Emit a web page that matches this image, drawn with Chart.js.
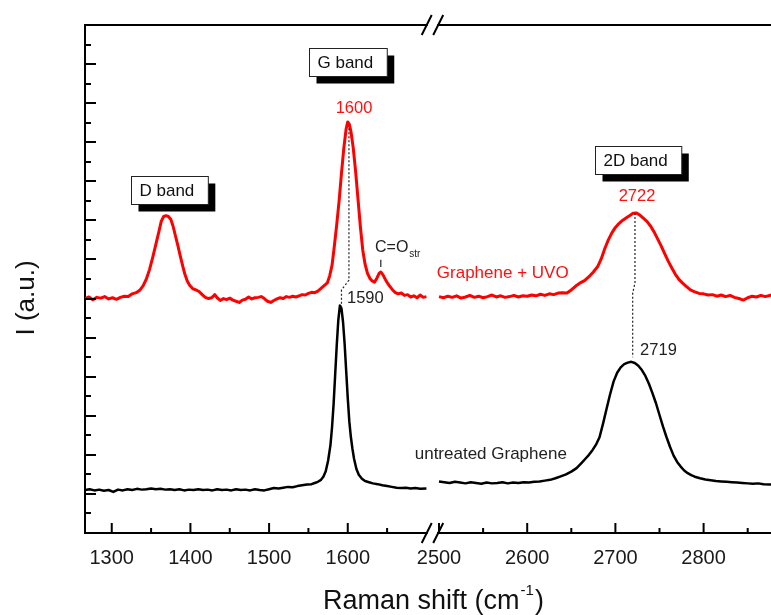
<!DOCTYPE html>
<html>
<head>
<meta charset="utf-8">
<script src="https://cdn.jsdelivr.net/npm/chart.js@4.4.1/dist/chart.umd.min.js"></script>
<style>
  html, body { margin: 0; padding: 0; background: #fff; }
  canvas { display: block; }
</style>
</head>
<body>
<canvas id="raman" width="771" height="615"></canvas>
<script>
// Raman spectra, wavenumber (cm-1) vs intensity (a.u.)
var uvoLowX = [1266, 1271, 1276, 1281, 1286, 1291, 1296, 1301, 1306, 1311, 1316, 1321, 1326, 1331, 1336, 1340, 1344, 1348, 1352, 1356,
  1360, 1363, 1366, 1369, 1372, 1375, 1378, 1381, 1384, 1387, 1390, 1393, 1396, 1399, 1403, 1407, 1411, 1415, 1419, 1423,
  1427, 1431, 1434, 1438, 1442, 1446, 1450, 1454, 1458, 1462, 1466, 1470, 1474, 1478, 1482, 1486, 1490, 1494, 1498, 1502,
  1506, 1510, 1514, 1518, 1522, 1526, 1530, 1534, 1538, 1542, 1546, 1550, 1554, 1558, 1562, 1566, 1570, 1574, 1577, 1580,
  1583, 1586, 1589, 1592, 1595, 1598, 1600, 1602, 1604, 1607, 1610, 1613, 1616, 1619, 1622, 1625, 1628, 1631, 1634, 1637,
  1640, 1642, 1645, 1648, 1651, 1654, 1657, 1660, 1664, 1668, 1672, 1676, 1680, 1684, 1688, 1692, 1696, 1700];
var uvoLowY = [6.00, 6.04, 5.97, 6.03, 6.01, 6.05, 5.99, 6.02, 5.98, 6.03, 6.06, 6.05, 6.12, 6.15, 6.22, 6.33, 6.50, 6.74, 7.05, 7.38,
  7.72, 7.98, 8.10, 8.12, 8.10, 8.03, 7.85, 7.60, 7.36, 7.10, 6.85, 6.62, 6.45, 6.34, 6.25, 6.22, 6.18, 6.10, 6.03, 6.00,
  6.02, 6.10, 6.02, 5.95, 6.00, 5.97, 6.01, 5.96, 5.93, 5.90, 5.96, 5.98, 6.04, 5.99, 6.02, 6.03, 6.05, 6.00, 5.93, 5.90,
  5.95, 5.99, 6.02, 6.00, 6.05, 6.03, 6.06, 6.04, 6.07, 6.10, 6.09, 6.13, 6.16, 6.15, 6.19, 6.26, 6.33, 6.40, 6.58, 6.85,
  7.35, 7.90, 8.50, 9.20, 9.85, 10.35, 10.52, 10.46, 10.28, 9.85, 9.25, 8.55, 7.85, 7.25, 6.88, 6.65, 6.52, 6.45, 6.42, 6.52,
  6.65, 6.68, 6.60, 6.48, 6.38, 6.30, 6.22, 6.16, 6.12, 6.14, 6.08, 6.10, 6.04, 6.07, 6.02, 6.09, 6.03, 6.05];

var uvoHighX = [2500, 2505, 2510, 2515, 2520, 2525, 2530, 2535, 2540, 2545, 2550, 2555, 2560, 2565, 2570, 2575, 2580, 2585, 2590, 2595,
  2600, 2605, 2610, 2615, 2620, 2625, 2630, 2635, 2640, 2645, 2650, 2655, 2660, 2665, 2670, 2675, 2680, 2684, 2688, 2692,
  2696, 2700, 2704, 2708, 2712, 2716, 2720, 2724, 2728, 2732, 2736, 2740, 2744, 2748, 2752, 2756, 2760, 2764, 2768, 2772,
  2776, 2780, 2785, 2790, 2795, 2800, 2805, 2810, 2815, 2820, 2825, 2830, 2835, 2840, 2845, 2850, 2855, 2860, 2865, 2870, 2877];
var uvoHighY = [6.05, 6.02, 6.06, 6.03, 6.07, 6.01, 6.04, 6.08, 6.03, 6.06, 6.02, 6.05, 6.09, 6.04, 6.07, 6.03, 6.05, 6.08, 6.04, 6.07,
  6.06, 6.09, 6.07, 6.11, 6.08, 6.12, 6.10, 6.14, 6.15, 6.14, 6.22, 6.32, 6.40, 6.46, 6.56, 6.68, 6.82, 7.02, 7.28, 7.50,
  7.68, 7.82, 7.92, 8.00, 8.06, 8.12, 8.18, 8.19, 8.13, 8.05, 7.97, 7.85, 7.70, 7.52, 7.34, 7.14, 6.95, 6.78, 6.62, 6.49,
  6.40, 6.32, 6.22, 6.17, 6.13, 6.12, 6.09, 6.10, 6.06, 6.09, 6.05, 6.08, 6.03, 6.00, 5.96, 6.02, 6.06, 6.04, 6.08, 6.05, 6.09];

var rawLowX = [1266, 1272, 1278, 1284, 1290, 1296, 1302, 1308, 1314, 1320, 1326, 1332, 1338, 1344, 1350, 1356, 1362, 1368, 1374, 1380,
  1386, 1392, 1398, 1404, 1410, 1416, 1422, 1428, 1434, 1440, 1446, 1452, 1458, 1464, 1470, 1476, 1482, 1488, 1494, 1500,
  1506, 1512, 1518, 1524, 1530, 1536, 1542, 1548, 1554, 1558, 1562, 1566, 1569, 1572, 1575, 1578, 1580, 1582, 1584, 1586,
  1588, 1590, 1592, 1594, 1596, 1598, 1600, 1602, 1604, 1606, 1608, 1611, 1614, 1618, 1622, 1627, 1632, 1638, 1644, 1650,
  1656, 1662, 1668, 1674, 1680, 1686, 1692, 1700];
var rawLowY = [1.10, 1.12, 1.09, 1.11, 1.08, 1.10, 1.05, 1.11, 1.09, 1.12, 1.10, 1.13, 1.11, 1.12, 1.14, 1.12, 1.13, 1.11, 1.12, 1.10,
  1.12, 1.09, 1.11, 1.10, 1.12, 1.10, 1.11, 1.09, 1.12, 1.10, 1.11, 1.09, 1.12, 1.10, 1.11, 1.09, 1.12, 1.10, 1.09, 1.12,
  1.15, 1.14, 1.16, 1.18, 1.17, 1.20, 1.22, 1.24, 1.25, 1.28, 1.31, 1.36, 1.44, 1.58, 1.85, 2.25, 2.70, 3.30, 4.05, 4.80,
  5.45, 5.82, 5.75, 5.40, 4.85, 4.15, 3.45, 2.85, 2.45, 2.15, 1.90, 1.64, 1.49, 1.39, 1.33, 1.30, 1.27, 1.25, 1.22, 1.20,
  1.18, 1.16, 1.15, 1.16, 1.14, 1.15, 1.13, 1.14];

var rawHighX = [2500, 2506, 2512, 2518, 2524, 2530, 2536, 2542, 2548, 2554, 2560, 2566, 2572, 2578, 2584, 2590, 2596, 2602, 2608, 2614,
  2620, 2626, 2632, 2638, 2644, 2650, 2656, 2662, 2666, 2670, 2674, 2678, 2682, 2686, 2690, 2694, 2698, 2702, 2706, 2710,
  2714, 2718, 2722, 2726, 2730, 2734, 2738, 2742, 2746, 2750, 2754, 2758, 2762, 2766, 2770, 2774, 2778, 2782, 2786, 2790,
  2796, 2802, 2808, 2814, 2820, 2826, 2832, 2838, 2844, 2850, 2856, 2862, 2868, 2877];
var rawHighY = [1.32, 1.30, 1.28, 1.31, 1.29, 1.27, 1.30, 1.28, 1.26, 1.29, 1.27, 1.28, 1.30, 1.27, 1.29, 1.28, 1.30, 1.29, 1.31, 1.32,
  1.34, 1.36, 1.40, 1.45, 1.50, 1.57, 1.66, 1.80, 1.90, 2.00, 2.12, 2.26, 2.45, 2.80, 3.18, 3.55, 3.88, 4.10, 4.24, 4.32,
  4.36, 4.38, 4.35, 4.28, 4.17, 4.02, 3.82, 3.58, 3.32, 3.02, 2.72, 2.45, 2.20, 1.98, 1.82, 1.70, 1.60, 1.53, 1.48, 1.44,
  1.40, 1.37, 1.35, 1.33, 1.32, 1.31, 1.30, 1.29, 1.28, 1.27, 1.26, 1.27, 1.25, 1.24];

var xTickValues = [1300, 1400, 1500, 1600, 2500, 2600, 2700, 2800];
var xTickLabels = ['1300', '1400', '1500', '1600', '2500', '2600', '2700', '2800'];
var xMinorTicks = [1350, 1450, 1550, 1650, 2550, 2650, 2750, 2850];

var FONT = '"Liberation Sans", Arial, sans-serif';

// broken axis: 1266-1700 on the left, 2500-2877 on the right (right part slightly stretched)
function toU(w) {
  if (w < 2000) return (w - 1266) * 0.7867;
  return 354 + (w - 2500) * 0.882;
}
function pts(xs, ys) {
  return xs.map(function (v, i) { return { x: toU(v), y: ys[i] }; });
}

function spectrum(label, xs, ys, color, width) {
  return {
    label: label,
    data: pts(xs, ys),
    showLine: true,
    borderColor: color,
    backgroundColor: color,
    borderWidth: width,
    borderJoinStyle: 'round',
    pointRadius: 0,
    fill: false
  };
}

var decor = {
  id: 'decor',
  afterDraw: function (chart) {
    var ctx = chart.ctx, a = chart.chartArea;
    var sx = chart.scales.x, sy = chart.scales.y;
    var px = function (w) { return sx.getPixelForValue(toU(w)); };
    var py = function (v) { return sy.getPixelForValue(v); };
    ctx.save();

    // top frame
    ctx.strokeStyle = '#000';
    ctx.lineWidth = 2;
    ctx.beginPath();
    ctx.moveTo(a.left, a.top);
    ctx.lineTo(a.right, a.top);
    ctx.stroke();

    // tick marks pointing inside
    ctx.lineWidth = 2;
    ctx.beginPath();
    xTickValues.forEach(function (w) { var p = px(w); ctx.moveTo(p, a.bottom); ctx.lineTo(p, a.bottom - 10); });
    xMinorTicks.forEach(function (w) { var p = px(w); ctx.moveTo(p, a.bottom); ctx.lineTo(p, a.bottom - 5); });
    for (var k = 0.5; k < 13; k += 0.5) {
      var yy = Math.round(py(k));
      ctx.moveTo(a.left, yy);
      ctx.lineTo(a.left + (k % 1 === 0 ? 11 : 6), yy);
    }
    ctx.stroke();

    // axis break marks
    var xb1 = (px(1700) + px(2500)) / 2 - 6, xb2 = xb1 + 11.5;
    [a.top, a.bottom].forEach(function (yAx) {
      ctx.fillStyle = '#fff';
      ctx.fillRect(xb1 + 1, yAx - 2, xb2 - xb1 - 2, 4);
      ctx.beginPath();
      ctx.moveTo(xb1 - 5, yAx + 10); ctx.lineTo(xb1 + 5, yAx - 10);
      ctx.moveTo(xb2 - 5, yAx + 10); ctx.lineTo(xb2 + 5, yAx - 10);
      ctx.strokeStyle = '#000';
      ctx.lineWidth = 2;
      ctx.stroke();
    });

    // dotted guide lines between peaks
    ctx.strokeStyle = '#222';
    ctx.lineWidth = 1.2;
    ctx.setLineDash([2, 2]);
    ctx.beginPath();
    ctx.moveTo(px(1601.5), py(10.36)); ctx.lineTo(px(1601.5), py(6.47));
    ctx.lineTo(px(1592), py(6.22)); ctx.lineTo(px(1592), py(5.78));
    ctx.moveTo(px(2722.2), py(8.19)); ctx.lineTo(px(2722.2), py(6.40));
    ctx.lineTo(px(2719.6), py(6.14)); ctx.lineTo(px(2719.6), py(4.50));
    ctx.stroke();
    ctx.setLineDash([]);
    // C=O marker
    ctx.beginPath();
    ctx.moveTo(px(1642), py(6.99)); ctx.lineTo(px(1642), py(6.81));
    ctx.stroke();

    // band boxes with drop shadow
    function bandBox(text, w, v) {
      ctx.font = '17px ' + FONT;
      var bw = ctx.measureText(text).width + 22, bh = 28;
      var bx = Math.round(px(w)) + 0.5, by = Math.round(py(v)) + 0.5;
      ctx.fillStyle = '#000';
      ctx.fillRect(bx + 7, by + 7, bw, bh);
      ctx.fillStyle = '#fff';
      ctx.fillRect(bx, by, bw, bh);
      ctx.strokeStyle = '#222';
      ctx.lineWidth = 1;
      ctx.strokeRect(bx, by, bw, bh);
      ctx.fillStyle = '#111';
      ctx.textAlign = 'left';
      ctx.textBaseline = 'middle';
      ctx.fillText(text, bx + 8, by + bh / 2 + 1);
    }
    bandBox('D band', 1324.5, 9.135);
    bandBox('G band', 1550.7, 12.41);
    bandBox('2D band', 2676.9, 9.90);

    function label(text, w, v, color, size, align) {
      ctx.font = size + 'px ' + FONT;
      ctx.fillStyle = color;
      ctx.textAlign = align;
      ctx.textBaseline = 'middle';
      ctx.fillText(text, px(w), py(v));
    }
    label('1600', 1608, 10.87, '#ff1010', 16.5, 'center');
    label('2722', 2724.5, 8.60, '#ff1010', 16.5, 'center');
    label('1590', 1599, 5.99, '#222', 16.5, 'left');
    label('2719', 2728, 4.66, '#222', 16.5, 'left');
    label('Graphene + UVO', 2647, 6.65, '#ff1010', 17, 'right');
    label('untreated Graphene', 2645, 2.02, '#222', 17, 'right');
    // C=O with subscript
    label('C=O', 1634.6, 7.31, '#222', 16, 'left');
    ctx.font = '16px ' + FONT;
    var coW = ctx.measureText('C=O').width;
    ctx.font = '10px ' + FONT;
    ctx.fillText('str', px(1634.6) + coW + 1, py(7.31) + 7);

    // axis titles
    ctx.fillStyle = '#111';
    ctx.textAlign = 'left';
    ctx.textBaseline = 'alphabetic';
    ctx.font = '27px ' + FONT;
    var tx = a.left + 238, ty = a.bottom + 76;
    var t1 = 'Raman shift (cm';
    ctx.fillText(t1, tx, ty);
    var w1 = ctx.measureText(t1).width;
    ctx.font = '15px ' + FONT;
    ctx.fillText('-1', tx + w1 + 1, ty - 14);
    var w2 = ctx.measureText('-1').width;
    ctx.font = '27px ' + FONT;
    ctx.fillText(')', tx + w1 + w2 + 2, ty);

    ctx.save();
    ctx.translate(34, 298);
    ctx.rotate(-Math.PI / 2);
    ctx.textAlign = 'center';
    ctx.font = '26px ' + FONT;
    ctx.fillText('I (a.u.)', 0, 0);
    ctx.restore();

    ctx.restore();
  }
};

var ctx = document.getElementById('raman').getContext('2d');
var myChart = new Chart(ctx, {
  type: 'scatter',
  data: {
    datasets: [
      spectrum('Graphene + UVO', uvoLowX, uvoLowY, '#ff0000', 3),
      spectrum('Graphene + UVO', uvoHighX, uvoHighY, '#ff0000', 3),
      spectrum('untreated Graphene', rawLowX, rawLowY, '#000000', 2.5),
      spectrum('untreated Graphene', rawHighX, rawHighY, '#000000', 2.5)
    ]
  },
  options: {
    responsive: false,
    animation: false,
    devicePixelRatio: 1,
    layout: { padding: { top: 25, right: 0, bottom: 0, left: 0 } },
    plugins: {
      legend: { display: false },
      tooltip: { enabled: false }
    },
    scales: {
      x: {
        type: 'linear',
        min: 0,
        max: 686,
        grid: { display: false },
        border: { display: true, color: '#000', width: 2 },
        afterBuildTicks: function (scale) {
          scale.ticks = xTickValues.map(function (w) { return { value: toU(w) }; });
        },
        afterFit: function (scale) { scale.height = 82; },
        ticks: {
          autoSkip: false,
          maxRotation: 0,
          padding: 5,
          color: '#1a1a1a',
          font: { family: FONT, size: 20 },
          callback: function (value, index) { return xTickLabels[index]; }
        }
      },
      y: {
        min: 0,
        max: 13,
        grid: { display: false },
        border: { display: true, color: '#000', width: 2 },
        ticks: { display: false },
        afterFit: function (scale) { scale.width = 85; }
      }
    }
  },
  plugins: [decor]
});
</script>
</body>
</html>
